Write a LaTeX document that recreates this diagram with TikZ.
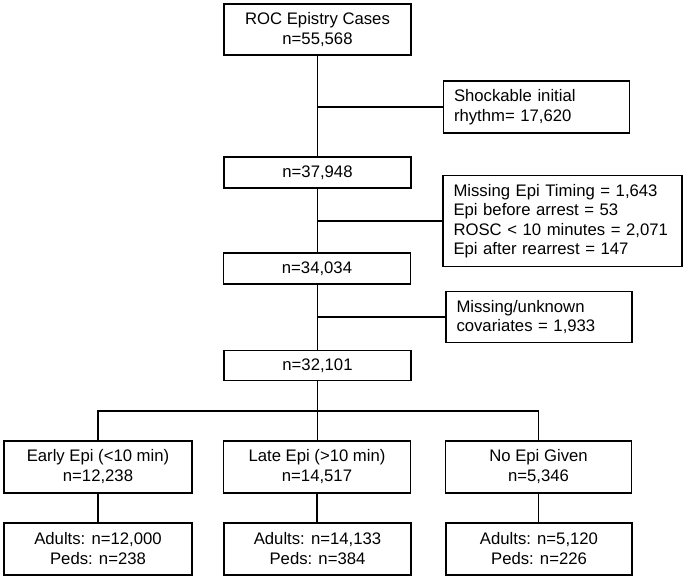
\documentclass[tikz,border=0pt]{standalone}
\usepackage{fontspec}
\setmainfont{Liberation Sans}
\begin{document}
\begin{tikzpicture}[x=1pt,y=-1pt,
  box/.style={draw=black, line width=1.2pt, fill=white, inner sep=0pt,
    font=\fontsize{16.7}{20}\selectfont, align=center,
    minimum width=187pt, minimum height=#1},
  box/.default=52pt,
  sidebox/.style={draw=black, line width=1.2pt, fill=white, inner xsep=10.5pt, inner ysep=0pt,
    font=\fontsize{16.7}{19.5}\selectfont, align=left},
  conn/.style={line width=1.2pt, draw=black}]
\path[fill=white] (0,0) rectangle (687,580);
\useasboundingbox (0,0) rectangle (687,580);

% main column
\node[box=51pt] (top) at (317.5,29.5) {ROC Epistry Cases\\n=55,568};
\node[box=31pt] (b2) at (317.5,172.5) {n=37,948};
\node[box=31pt] (b3) at (317,268.5) {n=34,034};
\node[box=30pt] (b4) at (317.5,365.5) {n=32,101};

% side boxes
\node[sidebox, text width=165pt, minimum height=52pt] (s1) at (536.5,107)
  {Shockable initial\\rhythm= 17,620};
\node[sidebox, text width=218pt, minimum height=91pt] (s2) at (562.5,221)
  {Missing Epi Timing = 1,643\\Epi before arrest = 53\\ROSC < 10 minutes = 2,071\\Epi after rearrest = 147};
\node[sidebox, text width=165pt, minimum height=51pt] (s3) at (539,317)
  {Missing/unknown\\covariates = 1,933};

% branches
\node[box, minimum width=188pt] (c1) at (98,467) {Early Epi (<10 min)\\n=12,238};
\node[box] (c2) at (317,467) {Late Epi (>10 min)\\n=14,517};
\node[box, minimum width=186pt] (c3) at (538.5,467) {No Epi Given\\n=5,346};
\node[box, minimum width=188pt] (d1) at (98,549) {Adults: n=12,000\\Peds: n=238};
\node[box] (d2) at (317.5,549) {Adults: n=14,133\\Peds: n=384};
\node[box, minimum width=186pt] (d3) at (539,549) {Adults: n=5,120\\Peds: n=226};

\coordinate (split) at (317.5,411);

% connectors
\draw[conn] (top.south) -- (b2.north);
\draw[conn] (b2.south) -- (b3.north -| b2.south);
\draw[conn] (b3.south -| b2.south) -- (b4.north);
\draw[conn] (top.south |- s1.west) -- (s1.west);
\draw[conn] (b2.south |- s2.west) -- (s2.west);
\draw[conn] (b2.south |- s3.west) -- (s3.west);
\draw[conn] (b4.south) -- (split);
\draw[conn] (c1.north) |- (split) -| (c3.north);
\draw[conn] (split) -- (c2.north -| split);
\draw[conn] (c1.south) -- (d1.north);
\draw[conn] (c2.south) -- (c2.south |- d2.north);
\draw[conn] (c3.south) -- (c3.south |- d3.north);
\end{tikzpicture}
\end{document}
